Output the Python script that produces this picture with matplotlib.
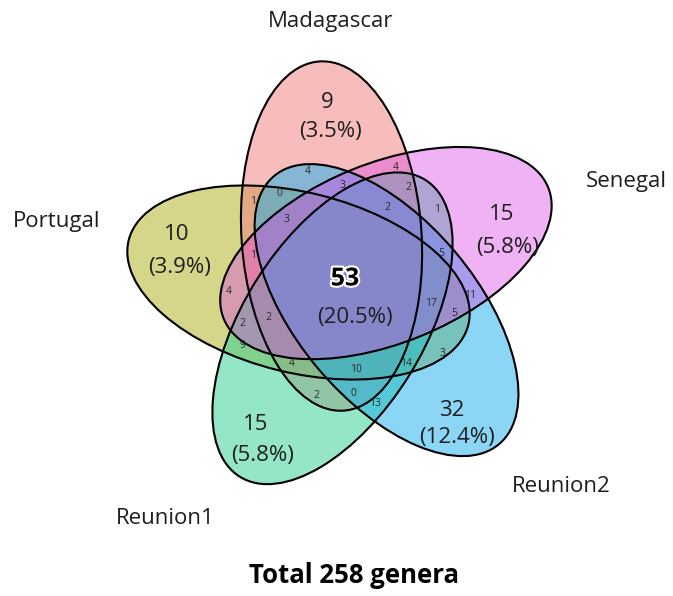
#!/usr/bin/env python3
"""
Diagrama de Venn de cinco conjuntos: géneros compartidos entre muestras.
"""
import numpy as np
import matplotlib.pyplot as plt
import matplotlib.patheffects as pe
from matplotlib.patches import Ellipse

# Datos
conjuntos = ["Madagascar", "Portugal", "Reunion1", "Reunion2", "Senegal"]
unicos = [9, 10, 15, 32, 15]
comun_todos = 53
total_generos = 258
intersecciones = [4, 4, 0, 1, 3, 2, 2, 1, 3, 1, 4, 2, 2, 9, 4,
                  5, 17, 11, 5, 3, 14, 10, 0, 13, 2]

# Diseño (coordenadas en píxeles de la imagen, y hacia abajo)
colores = ["#F17D7D", "#AFAF19", "#2DCD91", "#19AFEB", "#D943E6"]
transparencias = [0.5, 0.5, 0.5, 0.5, 0.4]
orden_dibujo = [1, 0, 2, 3, 4]
pos_nombres = [(331, 22), (57, 222), (165, 519), (561, 487), (626, 181)]
pos_unicos = [(327, 102), (177, 235), (256, 425), (452, 410), (502, 215)]
pos_porcentajes = [(331, 131), (180, 268), (263, 455), (457, 437), (508, 248)]
pos_intersecciones = [(308, 172), (396, 168), (279, 193), (253, 202), (343, 185),
                      (408, 188), (387, 207), (437, 209), (287, 219), (253, 256),
                      (229, 292), (242, 323), (268, 317), (242, 346), (292, 363),
                      (441, 253), (431, 304), (470, 295), (454, 313), (443, 353),
                      (406, 363), (356, 369), (353, 394), (375, 404), (316, 395)]
centro = (347, 282)
desplazamiento = 48.5
semiejes = (175, 90)
psi0, phi0 = 108.6, 94.0

FUENTE = "Open Sans"
TINTA = "#1e1e1e"


def elipses():
    """Centros y ángulos de las cinco elipses (rotación de 72 grados)."""
    res = []
    for k in range(5):
        psi = np.radians(psi0 + 72 * k)
        cx = centro[0] + desplazamiento * np.cos(psi)
        cy = centro[1] - desplazamiento * np.sin(psi)
        res.append(((cx, cy), -(phi0 + 72 * k)))
    return res


def main():
    fig = plt.figure(figsize=(6.73, 5.96), dpi=100)
    ax = fig.add_axes([0, 0, 1, 1])
    ax.set_xlim(0, 673)
    ax.set_ylim(596, 0)
    ax.axis("off")

    geo = elipses()
    for z, i in enumerate(orden_dibujo):
        (cx, cy), ang = geo[i]
        ax.add_patch(Ellipse((cx, cy), 2 * semiejes[0], 2 * semiejes[1], angle=ang,
                             facecolor=colores[i], alpha=transparencias[i], lw=0,
                             zorder=1 + z))
    for (cx, cy), ang in geo:
        ax.add_patch(Ellipse((cx, cy), 2 * semiejes[0], 2 * semiejes[1], angle=ang,
                             fill=False, edgecolor="black", lw=1.5, zorder=10))

    for nombre, (x, y) in zip(conjuntos, pos_nombres):
        ax.text(x, y, nombre, ha="center", va="center", fontsize=16,
                family=FUENTE, color=TINTA, zorder=20)

    for n, (x, y), (px, py) in zip(unicos, pos_unicos, pos_porcentajes):
        pct = 100 * n / total_generos
        ax.text(x, y, f"{n}", ha="center", va="center", fontsize=16,
                family=FUENTE, color=TINTA, zorder=20)
        ax.text(px, py, f"({pct:.1f}%)", ha="center", va="center",
                fontsize=16, family=FUENTE, color=TINTA, zorder=20)

    ax.text(345, 279, f"{comun_todos}", ha="center", va="center", fontsize=18,
            fontweight="bold", family=FUENTE, color="black", zorder=20,
            path_effects=[pe.withStroke(linewidth=3, foreground="white")])
    ax.text(355, 317, f"({100 * comun_todos / total_generos:.1f}%)", ha="center",
            va="center", fontsize=16, family=FUENTE, color=TINTA, zorder=20)

    for n, (x, y) in zip(intersecciones, pos_intersecciones):
        ax.text(x, y, f"{n}", ha="center", va="center", fontsize=7.5,
                family=FUENTE, color="#2a2a2a", zorder=20)

    ax.text(354, 583, f"Total {total_generos} genera", ha="center", va="baseline",
            fontsize=18.5, fontweight="bold", family=FUENTE, color="black")

    fig.savefig("out.png", dpi=100)
    plt.close(fig)


if __name__ == "__main__":
    main()
